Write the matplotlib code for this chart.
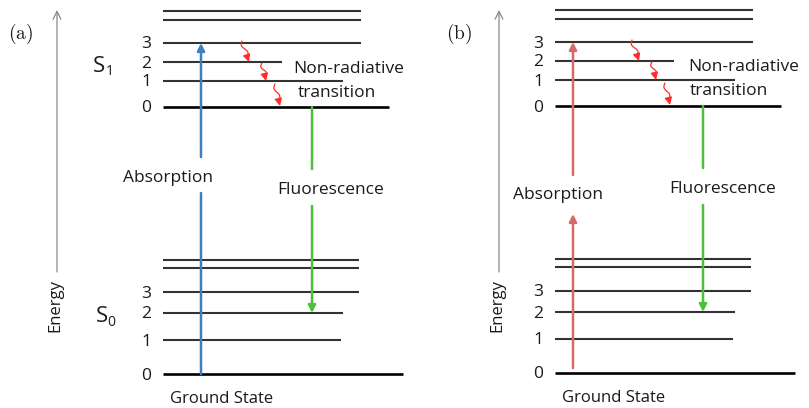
import matplotlib.pyplot as plt
import numpy as np

# vibrational level heights (pixel rows, top of picture = 0) and right ends
level_labels = ['0', '1', '2', '3']
s1_levels = [107, 81, 62, 43, 20, 11]
s1_right = [389, 343, 282, 361, 361, 361]
s0_levels = [374, 340, 313, 292, 268, 260]
s0_right = [403, 341, 343, 359, 359, 359]
level_left = 163

panel_names = ['(a)', '(b)']
panel_shift = [0, 392]
energy_axis_x = [57, 499]

# non-radiative relaxation steps (start, end) in panel (a) coordinates
relax_steps = [((242, 41), (249, 62)), ((262, 63), (266, 81)), ((275, 84), (280, 106))]

FONT = 'Open Sans'
INK = '#1a1a1a'
GREY = '#333333'
BLUE = '#3d7fc1'
RED_ABS = '#d46a6a'
GREEN = '#4cbf3c'
RED = '#ff2a2a'


def init_plt_env():
    plt.rcParams['font.family'] = [FONT, 'DejaVu Sans']
    plt.rcParams['mathtext.fontset'] = 'cm'
    plt.rcParams['text.color'] = INK


def arrow(ax, x0, y0, x1, y1, color, lw=1.8, head=True, scale=11):
    style = '-|>' if head else '-'
    ax.annotate('', xy=(x1, y1), xytext=(x0, y0),
                arrowprops=dict(arrowstyle=style, color=color, lw=lw,
                                mutation_scale=scale, shrinkA=0, shrinkB=0))


def wavy_arrow(ax, p0, p1, dx):
    (x0, y0), (x1, y1) = p0, p1
    x0, x1 = x0 + dx, x1 + dx
    t = np.linspace(0, 0.75, 40)
    vx, vy = x1 - x0, y1 - y0
    n = np.hypot(vx, vy)
    px, py = -vy / n, vx / n
    wob = 2.0 * np.sin(2 * np.pi * t / 0.75)
    xs = x0 + vx * t + px * wob
    ys = y0 + vy * t + py * wob
    ax.plot(xs, ys, color=RED, lw=0.9, solid_capstyle='round')
    ax.annotate('', xy=(x1, y1), xytext=(xs[-1], ys[-1]),
                arrowprops=dict(arrowstyle='-|>', color=RED, lw=0.9,
                                mutation_scale=11, shrinkA=0, shrinkB=0))


def draw_levels(ax, dx, dy, levels, rights):
    for i, (y, r) in enumerate(zip(levels, rights)):
        lw, c = (1.9, 'black') if i == 0 else (1.5, GREY)
        ax.plot([level_left + dx, r + dx], [y + dy, y + dy], color=c, lw=lw,
                solid_capstyle='butt')
        if i < len(level_labels):
            ax.text(146 + dx, y + dy + 5.5, level_labels[i], ha='center',
                    va='baseline', fontsize=12.5)


def draw_panel(ax, k):
    dx = panel_shift[k]
    dy = 0 if k == 0 else -1
    ax.text(8 + dx if k == 0 else 446, 34, r'$\mathrm{' + panel_names[k] + '}$',
            fontsize=14, ha='left', va='center')

    ex = energy_axis_x[k]
    ax.annotate('', xy=(ex, 10), xytext=(ex, 272),
                arrowprops=dict(arrowstyle='->', color='#888888', lw=0.9,
                                mutation_scale=14, shrinkA=0, shrinkB=0))
    ax.text(ex - 2, 306, 'Energy', rotation=90, ha='center', va='center',
            fontsize=12)

    draw_levels(ax, dx, dy, s1_levels, s1_right)
    draw_levels(ax, dx, dy, s0_levels, s0_right)

    if k == 0:
        ax.text(93, 72, 'S', fontsize=16, va='baseline')
        ax.text(106, 75, '1', fontsize=10, va='baseline')
        ax.text(96, 322, 'S', fontsize=16, va='baseline')
        ax.text(107, 326, '0', fontsize=10, va='baseline')

    # absorption
    if k == 0:
        ax_x = 201
        arrow(ax, ax_x, 374, ax_x, 193, BLUE, head=False)
        arrow(ax, ax_x, 157, ax_x, 43, BLUE)
        ax.text(168, 182, 'Absorption', ha='center', va='baseline', fontsize=12.5)
    else:
        ax_x = 573
        arrow(ax, ax_x, 368, ax_x, 214, RED_ABS)
        arrow(ax, ax_x, 175, ax_x, 42, RED_ABS)
        ax.text(558, 199, 'Absorption', ha='center', va='baseline', fontsize=12.5)

    # fluorescence
    fx = 312 + dx - (1 if k else 0)
    arrow(ax, fx, s1_levels[0] + dy, fx, 169 + dy, GREEN, head=False)
    arrow(ax, fx, 206 + dy, fx, s0_levels[2] + dy, GREEN)
    ax.text(331 + dx, 194 - (1 if k else 0), 'Fluorescence', ha='center',
            va='baseline', fontsize=12.5)

    ax.text(293 + dx + (3 if k else 0), 73 - (2 if k else 0), 'Non-radiative',
            ha='left', va='baseline', fontsize=12.5)
    ax.text(337 + dx, 97 - (2 if k else 0), 'transition', ha='center',
            va='baseline', fontsize=12.5)

    for p0, p1 in relax_steps:
        wavy_arrow(ax, (p0[0], p0[1] + dy), (p1[0], p1[1] + dy), dx - (2 if k else 0))

    ax.text(222 + dx, 403 - k, 'Ground State', ha='center', va='baseline',
            fontsize=12)


def main():
    init_plt_env()
    fig = plt.figure(figsize=(8.09, 4.08), dpi=100)
    ax = fig.add_axes([0, 0, 1, 1])
    ax.set_xlim(0, 809)
    ax.set_ylim(408, 0)
    ax.axis('off')
    for k in range(2):
        draw_panel(ax, k)
    fig.savefig('out.png', dpi=100, facecolor='white')


if __name__ == '__main__':
    main()
